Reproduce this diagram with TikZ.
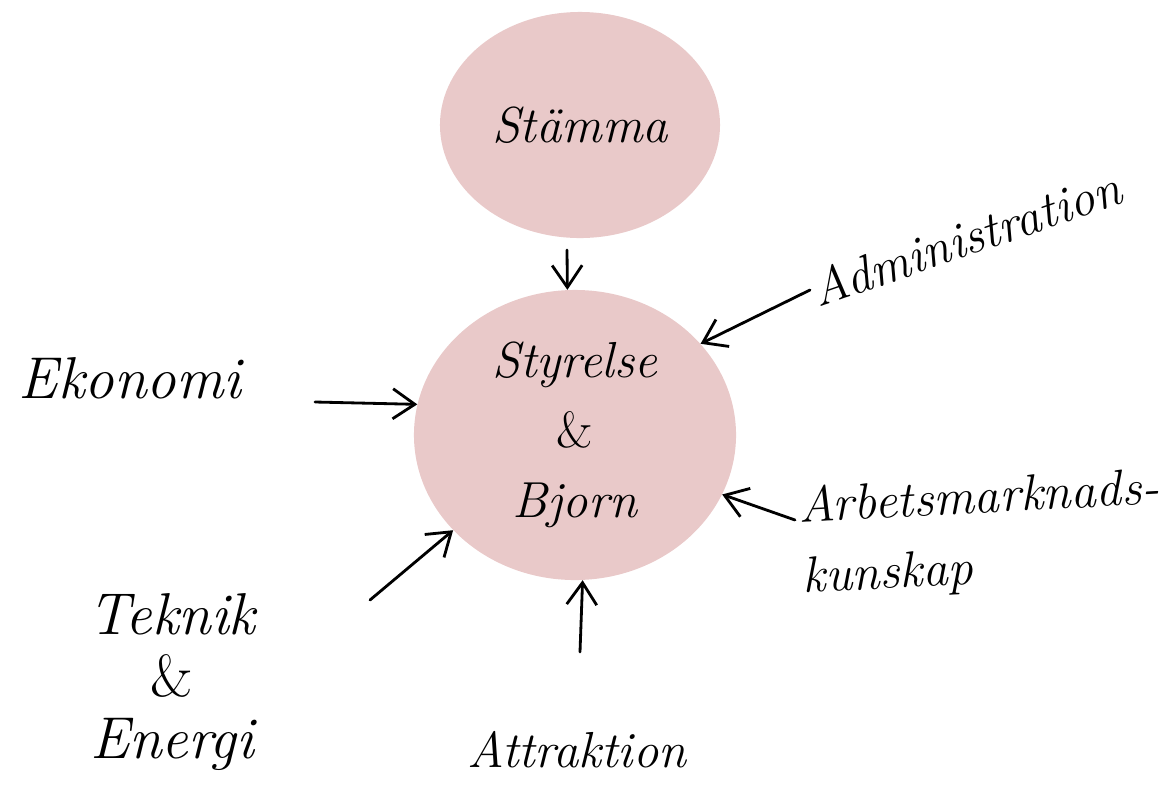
\documentclass[tikz,border=0pt]{standalone}
\usepackage{tikz}
\usetikzlibrary{shapes.geometric, arrows.meta}
\definecolor{blush}{RGB}{233,201,201}
\tikzset{blob/.style={ellipse, fill=blush, inner sep=0pt}}
\tikzset{hand/.style={font=\fontsize{36}{50}\selectfont\itshape}}
\tikzset{flow/.style={-{Straight Barb[length=5.5mm,width=7.5mm]}, line width=2pt, line cap=round}}

\begin{document}
\begin{tikzpicture}[x=0.025cm, y=-0.025cm]
\useasboundingbox (0,0) rectangle (1166,785);
% the two bodies
\node[blob, hand, minimum width=7cm, minimum height=5.65cm] (stam) at (580,125) {Stämma};
\node[blob, hand, align=center, minimum width=8.05cm, minimum height=7.25cm] (styr) at (575,435) {Styrelse\\{\upshape\&}\\Bjorn};
% inputs round the board
\node[hand, font=\fontsize{42}{50}\selectfont\itshape] (ekon) at (130,378) {Ekonomi};
\node[hand, rotate=19] (admin) at (966,238) {Administration};
\node[hand, align=left, rotate=3] (arb) at (981,535) {Arbetsmarknads-\\kunskap};
\node[hand, align=center, font=\fontsize{42}{44}\selectfont\itshape] (tek) at (172,682) {Teknik\\{\upshape\&}\\Energi};
\node[hand] (attr) at (577,750) {Attraktion};
\coordinate (stamtail) at (567,250);
\coordinate (admtail) at (810,290);
\coordinate (ektail) at (315,402);
\coordinate (arbtail) at (795,520);
\coordinate (tektail) at (370,600);
\coordinate (attrtail) at (580,652);
\draw[flow] (stamtail) -- (styr.93);
\draw[flow] (admtail) -- (styr.36);
\draw[flow] (ektail) -- (styr.169);
\draw[flow] (arbtail) -- (styr.-22);
\draw[flow] (tektail) -- (styr.218);
\draw[flow] (attrtail) -- (styr.-87);
\end{tikzpicture}
\end{document}
